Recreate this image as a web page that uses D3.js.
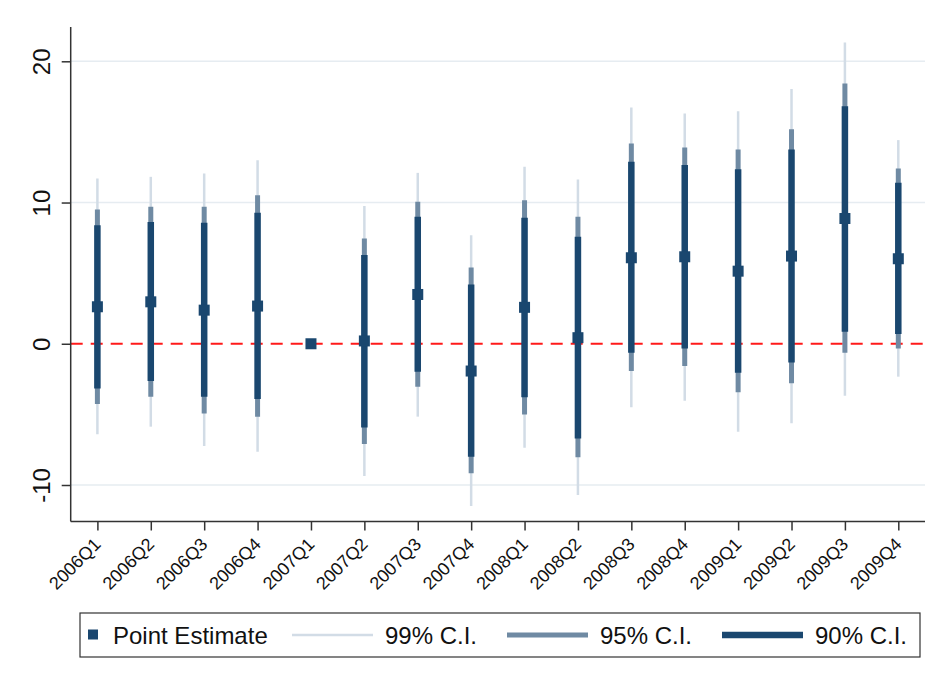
<!DOCTYPE html>
<html>
<head>
<meta charset="utf-8">
<script src="https://cdn.jsdelivr.net/npm/d3@7"></script>
<style>
  html, body { margin: 0; padding: 0; background: #fff; }
  svg { display: block; font-family: "Liberation Sans", Arial, Helvetica, sans-serif; }
</style>
</head>
<body>
<svg id="chart" width="936" height="686"></svg>
<script>
// ---- data ----
const quarters = ["2006Q1","2006Q2","2006Q3","2006Q4","2007Q1","2007Q2","2007Q3","2007Q4",
                  "2008Q1","2008Q2","2008Q3","2008Q4","2009Q1","2009Q2","2009Q3","2009Q4"];
const pointEst = [2.62, 2.97, 2.38, 2.67, 0.0, 0.2, 3.49, -1.93, 2.58, 0.43, 6.09, 6.16, 5.14, 6.21, 8.87, 6.02];
const lo90 = [-3.16, -2.64, -3.75, -3.91, 0, -5.92, -1.98, -8.0, -3.79, -6.7, -0.64, -0.33, -2.05, -1.32, 0.85, 0.69];
const hi90 = [8.40, 8.63, 8.56, 9.27, 0, 6.28, 8.99, 4.20, 8.92, 7.57, 12.88, 12.65, 12.36, 13.76, 16.82, 11.4];
const lo95 = [-4.27, -3.75, -4.93, -5.16, 0, -7.10, -3.04, -9.17, -5.0, -8.04, -1.93, -1.58, -3.44, -2.80, -0.64, -0.33];
const hi95 = [9.51, 9.70, 9.70, 10.52, 0, 7.46, 10.05, 5.40, 10.17, 8.99, 14.18, 13.9, 13.76, 15.19, 18.43, 12.41];
const lo99 = [-6.41, -5.87, -7.24, -7.64, 0, -9.36, -5.16, -11.49, -7.36, -10.71, -4.5, -4.03, -6.23, -5.63, -3.68, -2.33];
const hi99 = [11.7, 11.82, 12.06, 13.0, 0, 9.75, 12.1, 7.69, 12.53, 11.63, 16.73, 16.3, 16.47, 18.03, 21.33, 14.42];
const yTicks = [-10, 0, 10, 20];
const legendLabels = ["Point Estimate", "99% C.I.", "95% C.I.", "90% C.I."];

(function () {
// ---- layout ----
const svg = d3.select("#chart");
const pLeft = 70.7, pRight = 925, pTop = 27, pBottom = 521.5;
const navy = "#1a476f";
const c95 = "#6f8aa3";
const c99 = "#d2dce6";

const x = d3.scaleLinear().domain([-0.5, quarters.length - 0.5]).range([pLeft, pRight]);
const y = d3.scaleLinear().domain([-10, 20]).range([485, 61.3]);

// gridlines
svg.append("g").selectAll("line").data(yTicks.filter(d => d !== 0)).join("line")
  .attr("x1", pLeft).attr("x2", pRight)
  .attr("y1", d => y(d)).attr("y2", d => y(d))
  .attr("stroke", "#e6ecf1").attr("stroke-width", 1.5);

// zero reference line
svg.append("line")
  .attr("x1", pLeft).attr("x2", pRight)
  .attr("y1", y(0)).attr("y2", y(0))
  .attr("stroke", "#ff1a1a").attr("stroke-width", 2)
  .attr("stroke-dasharray", "12,8");

const data = quarters.map((q, i) => ({i, q, p: pointEst[i], l90: lo90[i], h90: hi90[i], l95: lo95[i], h95: hi95[i], l99: lo99[i], h99: hi99[i]}));
const ci = data.filter(d => d.q !== "2007Q1");

const g = svg.append("g");
g.selectAll("line.c99").data(ci).join("line").attr("class", "c99")
  .attr("x1", d => x(d.i)).attr("x2", d => x(d.i))
  .attr("y1", d => y(d.l99)).attr("y2", d => y(d.h99))
  .attr("stroke", c99).attr("stroke-width", 2.5);
g.selectAll("line.c95").data(ci).join("line").attr("class", "c95")
  .attr("x1", d => x(d.i)).attr("x2", d => x(d.i))
  .attr("y1", d => y(d.l95)).attr("y2", d => y(d.h95))
  .attr("stroke", c95).attr("stroke-width", 5);
g.selectAll("line.c90").data(ci).join("line").attr("class", "c90")
  .attr("x1", d => x(d.i)).attr("x2", d => x(d.i))
  .attr("y1", d => y(d.l90)).attr("y2", d => y(d.h90))
  .attr("stroke", navy).attr("stroke-width", 6.5);
g.selectAll("rect.pt").data(data).join("rect").attr("class", "pt")
  .attr("x", d => x(d.i) - 5.5).attr("y", d => y(d.p) - 5.5)
  .attr("width", 11).attr("height", 11).attr("fill", navy);

// axes
const yAxis = d3.axisLeft(y).tickValues(yTicks).tickFormat(d => String(d)).tickSize(9).tickPadding(6);
const ya = svg.append("g").attr("transform", `translate(${pLeft},0)`).call(yAxis);
ya.select(".domain").attr("d", `M0,${pTop}V${pBottom}`).attr("stroke", "#333").attr("stroke-width", 1.5);
ya.selectAll(".tick line").attr("stroke", "#333").attr("stroke-width", 1.5);
ya.selectAll(".tick text")
  .attr("font-size", 24).attr("fill", "#111")
  .attr("text-anchor", "middle")
  .attr("x", 0).attr("y", 0).attr("dy", "0.36em")
  .attr("transform", "translate(-29,0) rotate(-90)");

const xAxis = d3.axisBottom(x).tickValues(d3.range(quarters.length)).tickFormat(i => quarters[i]).tickSize(9).tickPadding(4);
const xa = svg.append("g").attr("transform", `translate(0,${pBottom})`).call(xAxis);
xa.select(".domain").attr("d", `M${pLeft},0H${pRight}`).attr("stroke", "#333").attr("stroke-width", 1.5);
xa.selectAll(".tick line").attr("stroke", "#333").attr("stroke-width", 1.5);
xa.selectAll(".tick text")
  .attr("font-size", 18).attr("fill", "#111")
  .attr("text-anchor", "end").attr("dy", 0).attr("y", 0)
  .attr("transform", "translate(4,24) rotate(-45)");

// legend
const lg = svg.append("g");
lg.append("rect").attr("x", 80).attr("y", 613).attr("width", 840).attr("height", 44)
  .attr("fill", "#fff").attr("stroke", "#333").attr("stroke-width", 1.2);
const ly = 635;
lg.append("rect").attr("x", 88).attr("y", ly - 5.5).attr("width", 10).attr("height", 10).attr("fill", navy);
const lines = [
  {x1: 292, x2: 373, col: c99, w: 2.5},
  {x1: 507, x2: 588, col: c95, w: 5},
  {x1: 722, x2: 803, col: navy, w: 6.5}
];
lg.selectAll("line.leg").data(lines).join("line").attr("class", "leg")
  .attr("x1", d => d.x1).attr("x2", d => d.x2).attr("y1", ly).attr("y2", ly)
  .attr("stroke", d => d.col).attr("stroke-width", d => d.w);
const txs = [113, 385, 600, 815];
lg.selectAll("text").data(legendLabels).join("text")
  .attr("x", (d, i) => txs[i]).attr("y", ly).attr("dy", "0.36em")
  .attr("font-size", 24).attr("fill", "#111").text(d => d);
})();
</script>
</body>
</html>
